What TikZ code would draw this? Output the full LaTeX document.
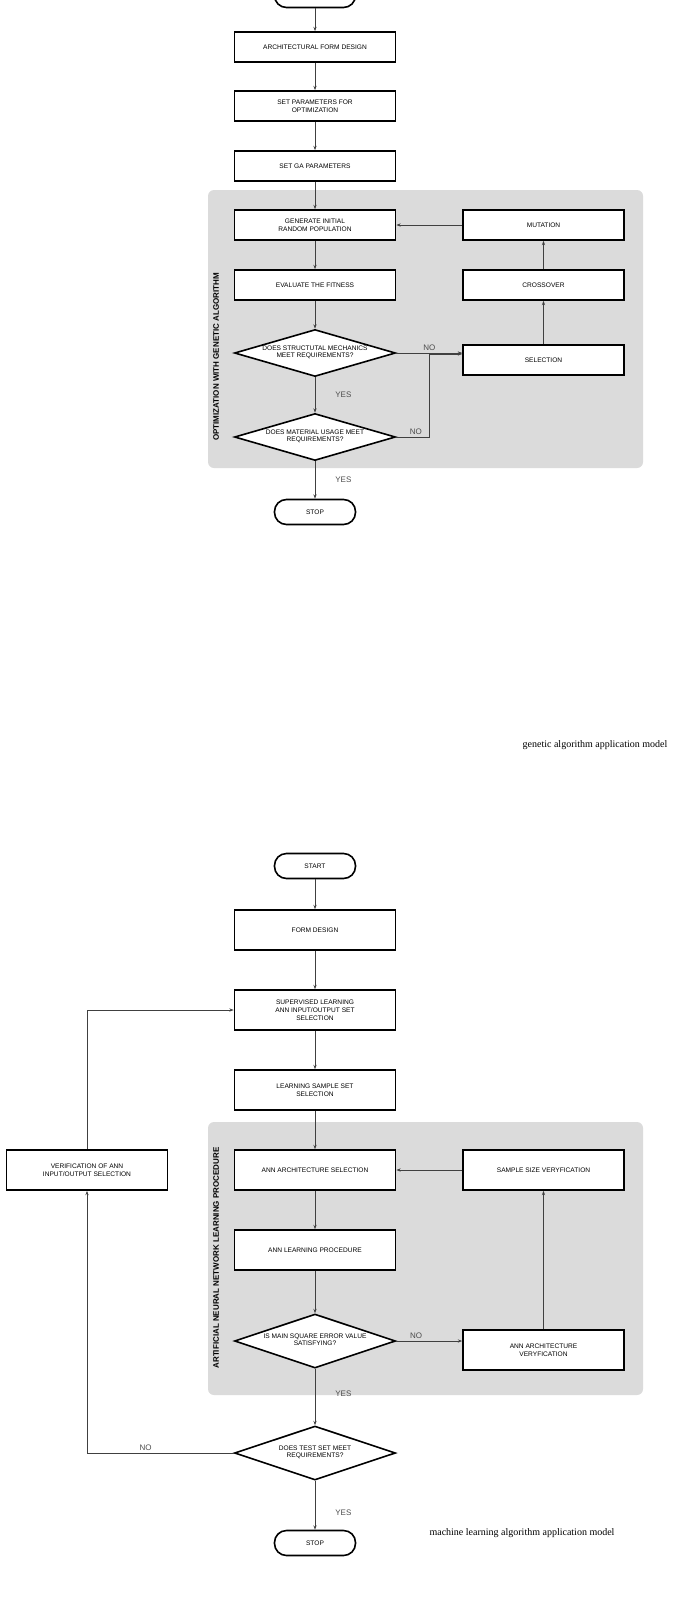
\documentclass[tikz,border=0pt]{standalone}
\usepackage{fontspec}
\setmainfont{Liberation Sans}
\newfontfamily\capfont{Liberation Serif}
\usetikzlibrary{shapes.geometric,arrows.meta}
\newcommand{\dtext}[2]{\smash{\makebox[0pt]{\raisebox{-1pt}{\begin{tabular}{@{}c@{}}#1\\#2\end{tabular}}}}}
\begin{document}
\begin{tikzpicture}[x=0.5pt,y=-0.5pt,
	every node/.style={font=\fontsize{3.3}{4}\selectfont, align=center, inner sep=0pt},
	box/.style={draw, thick, fill=white, minimum width=80.5pt, minimum height=15pt},
	bigbox/.style={box, minimum height=20pt},
	term/.style={draw, thick, fill=white, rounded corners=6pt, minimum width=40.5pt, minimum height=12.5pt},
	dec/.style={draw, thick, fill=white, diamond, minimum width=80.5pt, minimum height=23.5pt},
	panel/.style={fill=black!14, rounded corners=3pt},
	lbl/.style={font=\fontsize{4}{5}\selectfont, text=black!70},
	side/.style={font=\bfseries\fontsize{4}{5}\selectfont, rotate=90},
	flow/.style={draw=black!75, -{Stealth[length=2.2pt,width=1.6pt]}}]
	\useasboundingbox (0,0) rectangle (682,1600);
	\renewcommand{\arraystretch}{0.75}
	
	% Genetic algorithm model
	\fill[panel] (208,190) rectangle (643,468);
	\node[side] (gaside) at (216,357) {OPTIMIZATION WITH GENETIC ALGORITHM};
	\node[term] (gastart) at (315,-5) {START};
	\node[box] (form) at (315,47) {ARCHITECTURAL FORM DESIGN};
	\node[box] (optpar) at (315,106) {SET PARAMETERS FOR\\OPTIMIZATION};
	\node[box] (gapar) at (315,166) {SET GA PARAMETERS};
	\node[box] (init) at (315,225) {GENERATE INITIAL\\RANDOM POPULATION};
	\node[box] (fit) at (315,285) {EVALUATE THE FITNESS};
	\node[dec] (mech) at (315,353) {\dtext{DOES STRUCTUTAL MECHANICS}{MEET REQUIREMENTS?}};
	\node[dec] (mat) at (315,437) {\dtext{DOES MATERIAL USAGE MEET}{REQUIREMENTS?}};
	\node[term] (gastop) at (315,512) {STOP};
	\node[box] (mut) at (543.5,225) {MUTATION};
	\node[box] (cross) at (543.5,285) {CROSSOVER};
	\node[box] (sel) at (543.5,360) {SELECTION};
	\coordinate (bend) at (429,437);
	
	\draw[flow] (gastart) -- (form);
	\draw[flow] (form) -- (optpar);
	\draw[flow] (optpar) -- (gapar);
	\draw[flow] (gapar) -- (init);
	\draw[flow] (init) -- (fit);
	\draw[flow] (fit) -- (mech);
	\draw[flow] (mech) -- node[lbl, right=10pt] {YES} (mat);
	\draw[flow] (mat) -- node[lbl, right=10pt] {YES} (gastop);
	\draw[flow] (mech.east) -- node[lbl, above=1pt] {NO} (sel.west |- mech.east);
	\draw[flow] (mat.east) -- node[lbl, above=1pt, pos=0.6] {NO} (bend) |- ([yshift=3pt]sel.west);
	\draw[flow] (sel) -- (cross);
	\draw[flow] (cross) -- (mut);
	\draw[flow] (mut) -- (init);
	
	\node[font=\capfont\fontsize{5}{6}\selectfont] (gacap) at (595,745) {genetic algorithm application model};
	
	% Machine learning model
	\fill[panel] (208,1122) rectangle (643,1395);
	\node[side] (mlside) at (216,1258) {ARTIFICIAL NEURAL NETWORK LEARNING PROCEDURE};
	\node[term] (mlstart) at (315,866) {START};
	\node[bigbox] (mlform) at (315,930) {FORM DESIGN};
	\node[bigbox] (sup) at (315,1010) {SUPERVISED LEARNING\\ANN INPUT/OUTPUT SET\\SELECTION};
	\node[bigbox] (sample) at (315,1090) {LEARNING SAMPLE SET\\SELECTION};
	\node[bigbox] (arch) at (315,1170) {ANN ARCHITECTURE SELECTION};
	\node[bigbox] (learn) at (315,1250) {ANN LEARNING PROCEDURE};
	\node[dec, minimum height=27pt] (mse) at (315,1341) {\dtext{IS MAIN SQUARE ERROR VALUE}{SATISFYING?}};
	\node[dec, minimum height=27pt] (test) at (315,1453) {\dtext{DOES TEST SET MEET}{REQUIREMENTS?}};
	\node[term] (mlstop) at (315,1543) {STOP};
	\node[bigbox] (size) at (543.5,1170) {SAMPLE SIZE VERYFICATION};
	\node[bigbox] (archver) at (543.5,1350) {ANN ARCHITECTURE\\VERYFICATION};
	\node[bigbox] (ver) at (87,1170) {VERIFICATION OF ANN\\INPUT/OUTPUT SELECTION};
	
	\draw[flow] (mlstart) -- (mlform);
	\draw[flow] (mlform) -- (sup);
	\draw[flow] (sup) -- (sample);
	\draw[flow] (sample) -- (arch);
	\draw[flow] (arch) -- (learn);
	\draw[flow] (learn) -- (mse);
	\draw[flow] (mse) -- node[lbl, right=10pt, pos=0.45] {YES} (test);
	\draw[flow] (test) -- node[lbl, right=10pt, pos=0.65] {YES} (mlstop);
	\draw[flow] (mse.east) -- node[lbl, above=1pt, pos=0.3] {NO} (archver.west |- mse.east);
	\draw[flow] (archver) -- (size);
	\draw[flow] (size) -- (arch);
	\draw[flow] (test.west) -| node[lbl, above=1pt, pos=0.3] {NO} (ver.south);
	\draw[flow] (ver.north) |- (sup.west);
	
	\node[font=\capfont\fontsize{5}{6}\selectfont] (mlcap) at (522,1533) {machine learning algorithm application model};
\end{tikzpicture}
\end{document}
